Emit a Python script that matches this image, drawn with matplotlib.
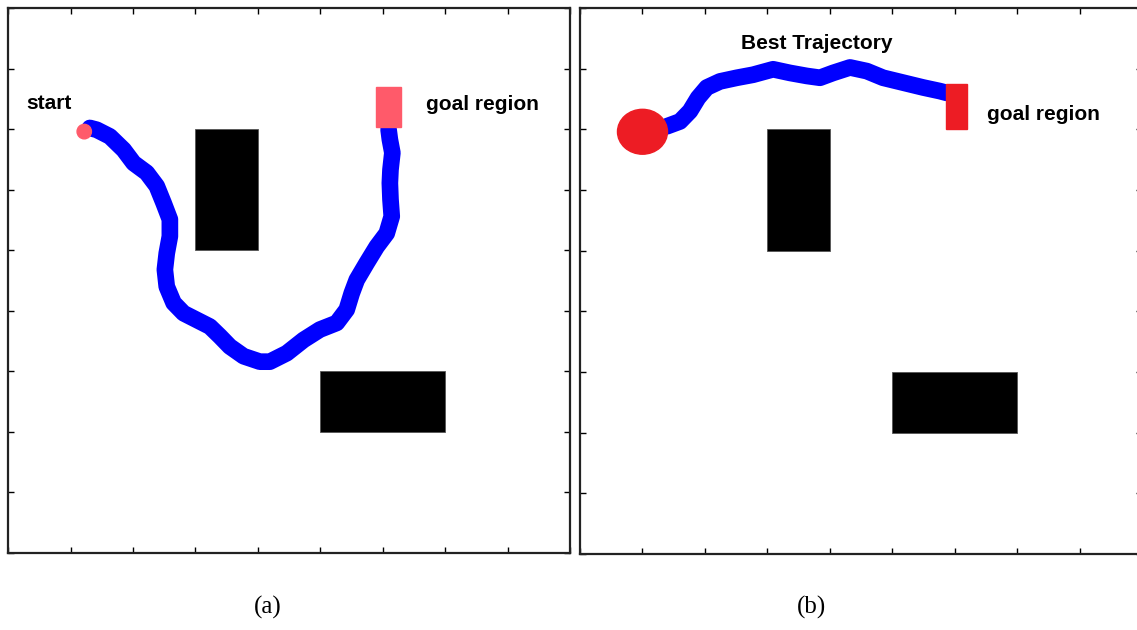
import numpy as np
import matplotlib
matplotlib.use("Agg")
import matplotlib.pyplot as plt
from matplotlib.patches import Rectangle, Ellipse

plt.rcParams['font.family'] = ['Liberation Sans', 'DejaVu Sans']

# obstacles (x, y, width, height) - same in both panels
obstacles = [(3.0, 5.0, 1.0, 2.0), (5.0, 2.0, 2.0, 1.0)]

# (a) trajectory
traj_a_x = [1.31, 1.42, 1.63, 1.85, 2.01, 2.22, 2.38, 2.49, 2.59, 2.59, 2.54, 2.51, 2.54,
            2.65, 2.81, 3.02, 3.23, 3.39, 3.55, 3.77, 4.03, 4.19, 4.46, 4.73, 4.99, 5.26,
            5.42, 5.50, 5.58, 5.74, 5.90, 6.06, 6.14, 6.12, 6.11, 6.12, 6.15, 6.11, 6.09]
traj_a_y = [7.02, 6.99, 6.88, 6.66, 6.44, 6.28, 6.06, 5.78, 5.51, 5.23, 4.95, 4.68, 4.40,
            4.13, 3.96, 3.85, 3.74, 3.58, 3.41, 3.25, 3.16, 3.16, 3.30, 3.52, 3.69, 3.80,
            4.02, 4.29, 4.51, 4.79, 5.06, 5.28, 5.56, 5.84, 6.11, 6.33, 6.61, 6.83, 6.99]
start_a = (1.22, 6.96)
goal_a = (5.89, 7.04, 0.40, 0.65)

# (b) best trajectory
traj_b_x = [1.39, 1.60, 1.76, 1.89, 2.03, 2.24, 2.51, 2.77, 3.09, 3.36, 3.63, 3.84, 4.05,
            4.32, 4.59, 4.85, 5.17, 5.49, 5.76, 5.87]
traj_b_y = [7.05, 7.13, 7.30, 7.52, 7.69, 7.79, 7.85, 7.90, 7.99, 7.93, 7.88, 7.85, 7.93,
            8.02, 7.96, 7.85, 7.77, 7.69, 7.63, 7.60]
start_b = (1.0, 6.96)
goal_b = (5.86, 7.0, 0.33, 0.74)

fig = plt.figure(figsize=(11.37, 6.30), dpi=100)
ax1 = fig.add_axes([0.00704, 0.1222, 0.4947, 0.865])
ax2 = fig.add_axes([0.5101, 0.1206, 0.4947, 0.8667])

for ax in (ax1, ax2):
    ax.set_xlim(0, 9)
    ax.set_ylim(0, 9)
    ax.set_xticks(range(10))
    ax.set_yticks(range(10))
    ax.tick_params(direction='in', length=4.5, width=1.0, top=True, right=True,
                   labelbottom=False, labelleft=False)
    for s in ax.spines.values():
        s.set_linewidth(1.6)
        s.set_color('#222222')
    for (ox, oy, w, h) in obstacles:
        ax.add_patch(Rectangle((ox, oy), w, h, facecolor='black', edgecolor='#555555', lw=0.6))

# panel (a)
ax1.plot(traj_a_x, traj_a_y, color='#0000FF', lw=12, solid_capstyle='round',
         solid_joinstyle='round', zorder=3)
ax1.add_patch(Ellipse(start_a, 0.23, 0.24, color='#FF5A6A', zorder=4))
ax1.add_patch(Rectangle(goal_a[:2], goal_a[2], goal_a[3], color='#FF5A6A', zorder=4))
ax1.text(0.30, 7.42, 'start', fontsize=15, fontweight='bold', va='center', ha='left')
ax1.text(6.69, 7.40, 'goal region', fontsize=15, fontweight='bold', va='center', ha='left')

# panel (b)
ax2.plot(traj_b_x, traj_b_y, color='#0000FF', lw=12, solid_capstyle='round',
         solid_joinstyle='round', zorder=3)
ax2.add_patch(Ellipse(start_b, 0.80, 0.74, color='#ED1C24', zorder=4))
ax2.add_patch(Rectangle(goal_b[:2], goal_b[2], goal_b[3], color='#ED1C24', zorder=4))
ax2.text(3.79, 8.42, 'Best Trajectory', fontsize=15, fontweight='bold', va='center', ha='center')
ax2.text(6.51, 7.24, 'goal region', fontsize=15, fontweight='bold', va='center', ha='left')

fig.text(0.2357, 0.0365, '(a)', fontsize=18, family='Liberation Serif', ha='center', va='center')
fig.text(0.714, 0.0365, '(b)', fontsize=18, family='Liberation Serif', ha='center', va='center')

fig.savefig('out.png', dpi=100)
